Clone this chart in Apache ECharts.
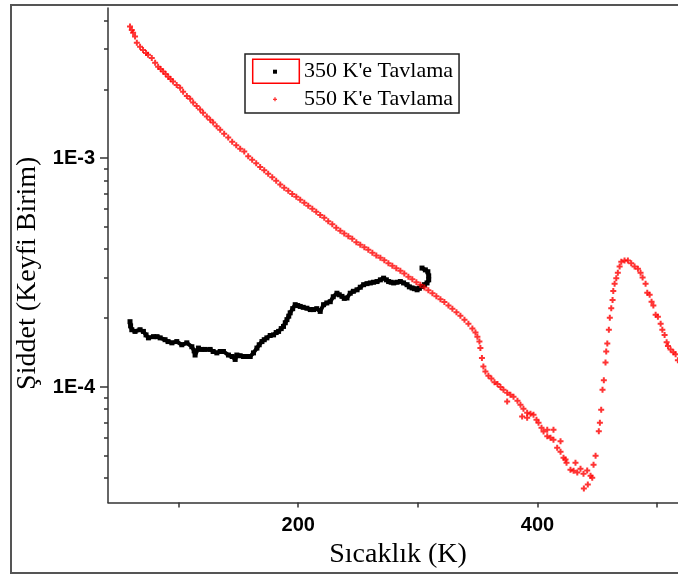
<!DOCTYPE html>
<html>
<head>
<meta charset="utf-8">
<script src="https://cdn.jsdelivr.net/npm/echarts@6/dist/echarts.min.js"></script>
<style>
html, body { margin: 0; padding: 0; background: #fff; }
#chart { width: 678px; height: 574px; }
</style>
</head>
<body>
<div id="chart"></div>
<script>
"use strict";
// okunan veriler: [sicaklik (K), siddet]
var black350 = [
    [59.4,1.93e-4],[59.9,1.85e-4],[60.9,1.78e-4],[63.6,1.75e-4],[67.8,1.78e-4],[70.6,1.75e-4],
    [72.8,1.69e-4],[74.8,1.64e-4],[79.0,1.66e-4],[82.0,1.66e-4],[84.6,1.64e-4],[88.7,1.61e-4],
    [91.2,1.58e-4],[94.4,1.56e-4],[98.5,1.58e-4],[102.7,1.53e-4],[106.9,1.56e-4],[111.1,1.50e-4],
    [113.0,1.44e-4],[113.8,1.38e-4],[116.6,1.48e-4],[118.9,1.46e-4],[122.2,1.46e-4],[126.4,1.46e-4],
    [128.9,1.43e-4],[132.0,1.41e-4],[134.8,1.43e-4],[137.5,1.43e-4],[141.7,1.38e-4],[144.8,1.36e-4],
    [147.3,1.32e-4],[148.7,1.38e-4],[151.5,1.37e-4],[154.3,1.36e-4],[157.4,1.36e-4],[159.9,1.36e-4],
    [162.6,1.41e-4],[165.5,1.48e-4],[167.4,1.53e-4],[169.7,1.58e-4],[171.6,1.61e-4],[173.8,1.64e-4],
    [176.6,1.68e-4],[179.4,1.69e-4],[181.6,1.73e-4],[183.6,1.75e-4],[185.8,1.80e-4],[187.7,1.84e-4],
    [189.2,1.91e-4],[190.6,1.97e-4],[192.1,2.04e-4],[193.3,2.11e-4],[195.4,2.20e-4],[197.5,2.29e-4],
    [199.6,2.27e-4],[201.7,2.25e-4],[204.2,2.23e-4],[207.3,2.21e-4],[210.1,2.18e-4],[212.8,2.18e-4],
    [215.5,2.20e-4],[218.4,2.14e-4],[221.2,2.29e-4],[223.9,2.33e-4],[226.8,2.36e-4],[229.3,2.48e-4],
    [232.4,2.57e-4],[234.3,2.53e-4],[236.6,2.49e-4],[238.5,2.44e-4],[240.8,2.45e-4],[243.5,2.57e-4],
    [246.1,2.62e-4],[249.2,2.66e-4],[251.9,2.73e-4],[254.7,2.80e-4],[257.5,2.83e-4],[260.3,2.85e-4],
    [263.0,2.87e-4],[265.9,2.89e-4],[268.7,2.94e-4],[271.4,2.99e-4],[273.7,2.94e-4],[275.6,2.89e-4],
    [277.7,2.87e-4],[279.8,2.85e-4],[282.6,2.87e-4],[285.4,2.89e-4],[288.1,2.85e-4],[291.0,2.80e-4],
    [292.9,2.74e-4],[295.2,2.71e-4],[297.1,2.69e-4],[299.4,2.66e-4],[301.3,2.70e-4],[303.5,2.75e-4],
    [305.5,2.80e-4],[307.7,2.85e-4],[309.1,2.94e-4],[309.1,3.06e-4],[308.4,3.19e-4],[306.3,3.25e-4],
    [303.5,3.31e-4]
];
var red550 = [
    [59.4,3.76e-3],[60.9,3.63e-3],[62.0,3.53e-3],[63.6,3.40e-3],[65.1,3.19e-3],[67.8,3.07e-3],
    [70.3,2.97e-3],[72.8,2.88e-3],[74.5,2.83e-3],[77.6,2.74e-3],[80.4,2.61e-3],[82.9,2.51e-3],
    [85.0,2.45e-3],[87.1,2.39e-3],[89.2,2.33e-3],[91.3,2.27e-3],[93.3,2.22e-3],[95.4,2.16e-3],
    [98.4,2.09e-3],[101.3,2.03e-3],[103.8,1.95e-3],[106.9,1.87e-3],[109.7,1.82e-3],[112.2,1.75e-3],
    [115.1,1.69e-3],[118.0,1.63e-3],[120.5,1.58e-3],[123.6,1.52e-3],[126.4,1.47e-3],[128.9,1.43e-3],
    [131.8,1.38e-3],[134.8,1.33e-3],[138.1,1.28e-3],[141.5,1.23e-3],[144.8,1.18e-3],[148.2,1.14e-3],
    [151.5,1.10e-3],[154.9,1.07e-3],[158.2,1.02e-3],[161.5,9.83e-4],[164.9,9.49e-4],[168.2,9.16e-4],
    [171.6,8.85e-4],[174.9,8.54e-4],[178.3,8.25e-4],[181.6,7.96e-4],[185.0,7.68e-4],[188.3,7.42e-4],
    [191.7,7.20e-4],[195.0,6.98e-4],[198.4,6.78e-4],[201.7,6.58e-4],[205.1,6.38e-4],[208.4,6.19e-4],
    [211.8,6.01e-4],[215.1,5.83e-4],[218.4,5.65e-4],[221.8,5.49e-4],[225.1,5.30e-4],[228.5,5.14e-4],
    [231.8,4.96e-4],[235.2,4.82e-4],[238.5,4.69e-4],[241.9,4.56e-4],[245.2,4.44e-4],[248.6,4.29e-4],
    [251.9,4.18e-4],[255.3,4.08e-4],[258.6,3.98e-4],[262.0,3.86e-4],[265.3,3.76e-4],[268.7,3.67e-4],
    [272.0,3.58e-4],[275.4,3.47e-4],[278.7,3.39e-4],[282.0,3.30e-4],[285.4,3.22e-4],[288.7,3.13e-4],
    [292.1,3.03e-4],[295.4,2.96e-4],[298.8,2.87e-4],[302.1,2.80e-4],[305.5,2.72e-4],[308.8,2.65e-4],
    [312.2,2.57e-4],[315.5,2.49e-4],[318.9,2.42e-4],[322.2,2.35e-4],[325.6,2.27e-4],[328.9,2.20e-4],
    [332.3,2.12e-4],[335.6,2.05e-4],[339.0,1.97e-4],[342.3,1.89e-4],[345.6,1.80e-4],[348.2,1.73e-4],
    [349.8,1.66e-4],[351.5,1.58e-4],[352.3,1.48e-4],[353.6,1.34e-4],[354.8,1.23e-4],[356.5,1.17e-4],
    [359.0,1.12e-4],[361.5,1.09e-4],[364.1,1.05e-4],[366.6,1.03e-4],[369.1,1.00e-4],[371.6,9.73e-5],
    [374.7,9.45e-5],[374.7,8.65e-5],[377.4,9.25e-5],[380.0,9.07e-5],[383.3,8.71e-5],[385.8,8.37e-5],
    [387.2,7.44e-5],[388.3,8.04e-5],[391.4,7.72e-5],[391.4,7.35e-5],[394.2,7.64e-5],[396.7,7.57e-5],
    [399.2,7.20e-5],[400.9,6.98e-5],[403.4,6.64e-5],[405.1,6.40e-5],[408.2,6.51e-5],[408.2,6.09e-5],
    [410.9,6.01e-5],[413.4,6.51e-5],[413.4,5.89e-5],[416.5,5.43e-5],[419.3,5.79e-5],[419.3,5.22e-5],
    [421.8,4.91e-5],[423.5,4.82e-5],[424.3,4.67e-5],[427.6,4.35e-5],[430.2,4.31e-5],[431.8,4.67e-5],
    [433.3,4.23e-5],[436.0,4.40e-5],[438.5,4.18e-5],[438.8,3.60e-5],[441.6,4.32e-5],[442.1,3.75e-5],
    [444.4,4.10e-5],[445.8,4.02e-5],[446.9,4.58e-5],[448.6,5.01e-5],[451.3,6.41e-5],[452.2,6.98e-5],
    [453.3,7.96e-5],[454.4,9.73e-5],[455.5,1.07e-4],[456.9,1.28e-4],[457.5,1.43e-4],[458.4,1.55e-4],
    [459.7,1.78e-4],[460.5,2.01e-4],[461.7,2.21e-4],[462.8,2.40e-4],[463.4,2.63e-4],[464.5,2.83e-4],
    [465.9,2.99e-4],[467.2,3.16e-4],[468.7,3.36e-4],[470.1,3.53e-4],[472.8,3.57e-4],[475.6,3.57e-4],
    [478.4,3.47e-4],[481.2,3.36e-4],[484.0,3.29e-4],[486.2,3.16e-4],[487.9,3.01e-4],[490.4,2.83e-4],
    [491.8,2.58e-4],[493.8,2.53e-4],[495.4,2.36e-4],[496.9,2.27e-4],[498.8,2.07e-4],[500.7,2.03e-4],
    [503.0,1.89e-4],[504.4,1.78e-4],[506.3,1.69e-4],[508.0,1.57e-4],[509.1,1.51e-4],[511.3,1.46e-4],
    [513.6,1.42e-4],[515.5,1.39e-4],[517.4,1.31e-4]
];
var seriesNames = ["350 K'e Tavlama", "550 K'e Tavlama"];
var xTicks = [100, 200, 300, 400, 500];
var xLabels = [200, 400];
var yMajorTicks = [1e-4, 1e-3];
var yMinorTicks = [4e-5, 5e-5, 6e-5, 7e-5, 8e-5, 9e-5,
    2e-4, 3e-4, 4e-4, 5e-4, 6e-4, 7e-4, 8e-4, 9e-4, 2e-3, 3e-3, 4e-3];
var xRange = [41, 517.5];
var yRange = [3.13e-5, 4.53e-3];

// log eksen: degerleri log10 olarak ciz
var lg = function (v) { return Math.log10(v); };
var toLog = function (arr) { return arr.map(function (p) { return [p[0], lg(p[1])]; }); };
var PLUS = 'path://M2,0H4V2H6V4H4V6H2V4H0V2H2Z';
var axisColor = '#333';

var myChart = echarts.init(document.getElementById('chart'));
var option = {
    animation: false,
    backgroundColor: '#fff',
    grid: { left: 108, right: 0, top: 8, bottom: 71.5 },
    xAxis: {
        type: 'value',
        min: xRange[0],
        max: xRange[1],
        name: 'Sıcaklık (K)',
        nameLocation: 'middle',
        nameGap: 33,
        nameTextStyle: { fontFamily: 'Liberation Serif', fontSize: 28, color: '#000', padding: [0, 0, 0, 10] },
        axisLine: { onZero: false, lineStyle: { color: axisColor, width: 1.5 } },
        axisTick: { customValues: xTicks, length: 5, lineStyle: { color: axisColor, width: 1.5 } },
        axisLabel: {
            customValues: xLabels, margin: 13,
            fontFamily: 'Liberation Sans', fontWeight: 'bold', fontSize: 20, color: '#000'
        },
        splitLine: { show: false }
    },
    yAxis: [
        {
            type: 'value',
            position: 'left',
            min: lg(yRange[0]),
            max: lg(yRange[1]),
            name: 'Şiddet (Keyfi Birim)',
            nameLocation: 'middle',
            nameRotate: 90,
            nameGap: 63,
            nameTextStyle: { fontFamily: 'Liberation Serif', fontSize: 28, color: '#000', padding: [0, 36, 0, 0] },
            axisLine: { show: true, onZero: false, lineStyle: { color: axisColor, width: 1.5 } },
            axisTick: { customValues: yMajorTicks.map(lg), length: 8, lineStyle: { color: axisColor, width: 1.5 } },
            axisLabel: {
                customValues: yMajorTicks.map(lg), margin: 13,
                formatter: function (v) { return '1E' + Math.round(v); },
                fontFamily: 'Liberation Sans', fontWeight: 'bold', fontSize: 20, color: '#000'
            },
            splitLine: { show: false }
        },
        {
            // sadece ara tikler
            type: 'value',
            position: 'left',
            offset: 0,
            min: lg(yRange[0]),
            max: lg(yRange[1]),
            axisLine: { show: false, onZero: false },
            axisTick: { customValues: yMinorTicks.map(lg), length: 4, lineStyle: { color: axisColor, width: 1.5 } },
            axisLabel: { show: false },
            splitLine: { show: false }
        }
    ],
    legend: {
        orient: 'vertical',
        left: 245,
        top: 54,
        selectedMode: false,
        padding: [5.7, 6, 1.7, 28],
        itemGap: 3.6,
        itemWidth: 4,
        itemHeight: 4,
        borderColor: '#222',
        borderWidth: 1.5,
        backgroundColor: '#fff',
        textStyle: { fontFamily: 'Liberation Serif', fontSize: 22, color: '#000', lineHeight: 24, padding: [0, 0, 0, 22] },
        data: [
            { name: seriesNames[0], icon: 'rect' },
            { name: seriesNames[1], icon: PLUS }
        ]
    },
    graphic: [
        {
            type: 'rect', silent: true, z: -10,
            shape: { x: 11, y: 5, width: 700, height: 568 },
            style: { fill: 'none', stroke: '#555', lineWidth: 2 }
        },
        {
            type: 'rect', silent: true, z: 100,
            shape: { x: 252.7, y: 59.3, width: 46.6, height: 24 },
            style: { fill: 'none', stroke: '#ff0000', lineWidth: 1.5 }
        }
    ],
    series: [
        {
            name: seriesNames[0],
            type: 'line',
            data: toLog(black350),
            symbol: 'rect',
            symbolSize: 5,
            showSymbol: true,
            showAllSymbol: true,
            lineStyle: { color: '#000', width: 4 },
            itemStyle: { color: '#000' },
            z: 2
        },
        {
            name: seriesNames[1],
            type: 'scatter',
            data: toLog(red550),
            symbol: PLUS,
            symbolSize: 6,
            itemStyle: { color: '#ff0000' },
            z: 3
        }
    ]
};
myChart.setOption(option);

window.onresize = function () {
    myChart.resize();
};
</script>
</body>
</html>
